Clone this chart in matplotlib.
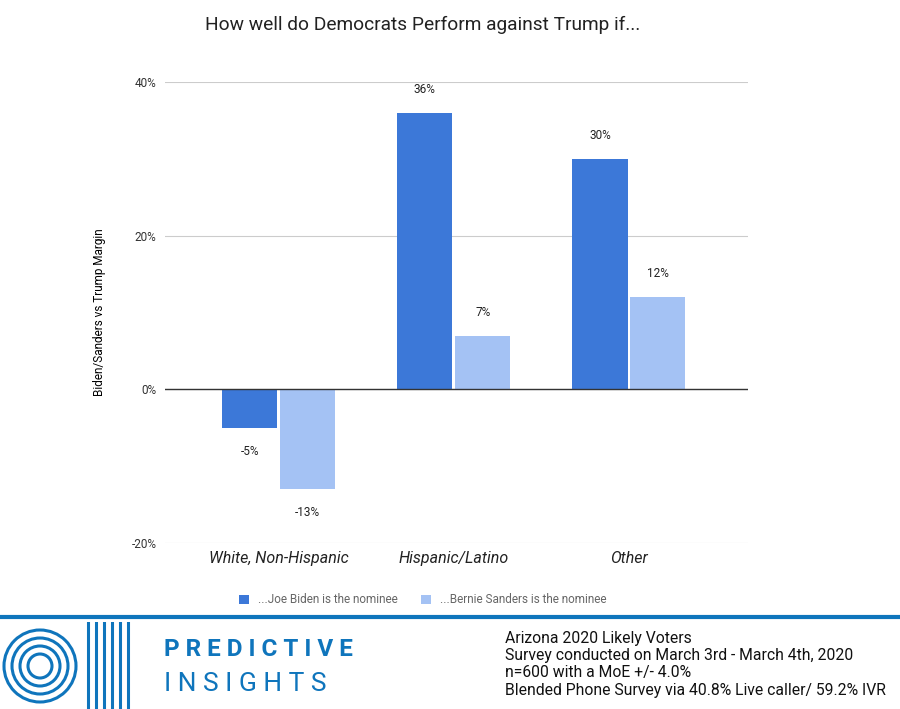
import matplotlib
matplotlib.use("Agg")
import matplotlib.pyplot as plt
from matplotlib.patches import Circle

plt.rcParams["font.family"] = ["Roboto", "DejaVu Sans"]

categories = ["White, Non-Hispanic", "Hispanic/Latino", "Other"]
biden = [-5, 36, 30]
sanders = [-13, 7, 12]
series_names = ["...Joe Biden is the nominee", "...Bernie Sanders is the nominee"]
yticks = [-20, 0, 20, 40]

c1, c2 = "#3c78d8", "#a4c2f4"
fig = plt.figure(figsize=(9, 7.09), dpi=100)
ax = fig.add_axes([0.183, 0.234, 0.648, 0.650])
x = list(range(len(categories)))
w = 0.315
b1 = ax.bar([i - 0.165 for i in x], biden, w, color=c1, label=series_names[0], zorder=3)
b2 = ax.bar([i + 0.165 for i in x], sanders, w, color=c2, label=series_names[1], zorder=3)
for bars, vals in ((b1, biden), (b2, sanders)):
    for r, v in zip(bars, vals):
        y = v + 2.2 if v >= 0 else v - 2.2
        ax.text(r.get_x() + r.get_width()/2, y, f"{v}%", ha="center",
                va="bottom" if v >= 0 else "top", fontsize=8.5, color="#222222")
ax.set_xlim(-0.651, 2.68)
ax.set_ylim(-20, 40)
ax.set_yticks(yticks)
ax.set_yticklabels([f"{t}%" for t in yticks], fontsize=8.5, color="#333333")
ax.set_xticks(x)
ax.set_xticklabels(categories, fontsize=11.5, style="italic", color="#222222")
ax.tick_params(length=0, pad=6)
ax.grid(axis="y", color="#cccccc", lw=0.8, zorder=0)
ax.axhline(0, color="#333333", lw=1, zorder=4)
for s in ax.spines.values():
    s.set_visible(False)
ax.set_ylabel("Biden/Sanders vs Trump Margin", fontsize=8.5, labelpad=18)
fig.text(0.47, 0.965, "How well do Democrats Perform against Trump if...", ha="center",
         va="center", fontsize=13.8, color="#222222")
fig.legend(loc="center", bbox_to_anchor=(0.47, 0.154), ncol=2, frameon=False,
           fontsize=8.5, handlelength=0.8, handleheight=0.8, labelcolor="#666666",
           columnspacing=2.0)

# footer
blue = "#0f75bc"
fig.add_artist(plt.Line2D([0, 1], [1 - 617/709]*2, color=blue, lw=3, transform=fig.transFigure))
lax = fig.add_axes([0, 0, 0.16, 1 - 622/709])
lax.set_xlim(0, 144); lax.set_ylim(0, 87); lax.axis("off")
for r in (36, 28, 20, 12):
    lax.add_patch(Circle((40, 43), r, fill=False, ec=blue, lw=2.2))
for xx in (88, 96, 104, 112, 120, 128):
    lax.plot([xx, xx], [0, 87], color=blue, lw=2.2)
fig.text(0.182, 1 - 650/709, "P R E D I C T I V E", fontsize=17.5, color=blue, fontweight="bold",
         va="center")
fig.text(0.182, 1 - 684/709, "I N S I G H T S", fontsize=19, color=blue, va="center")
lines = ["Arizona 2020 Likely Voters", "Survey conducted on March 3rd - March 4th, 2020",
         "n=600 with a MoE +/- 4.0%", "Blended Phone Survey via 40.8% Live caller/ 59.2% IVR"]
for i, t in enumerate(lines):
    fig.text(0.561, 1 - (638 + i*17.5)/709, t, fontsize=11.3, va="center", color="#111111")
fig.savefig("out.png", dpi=100)
